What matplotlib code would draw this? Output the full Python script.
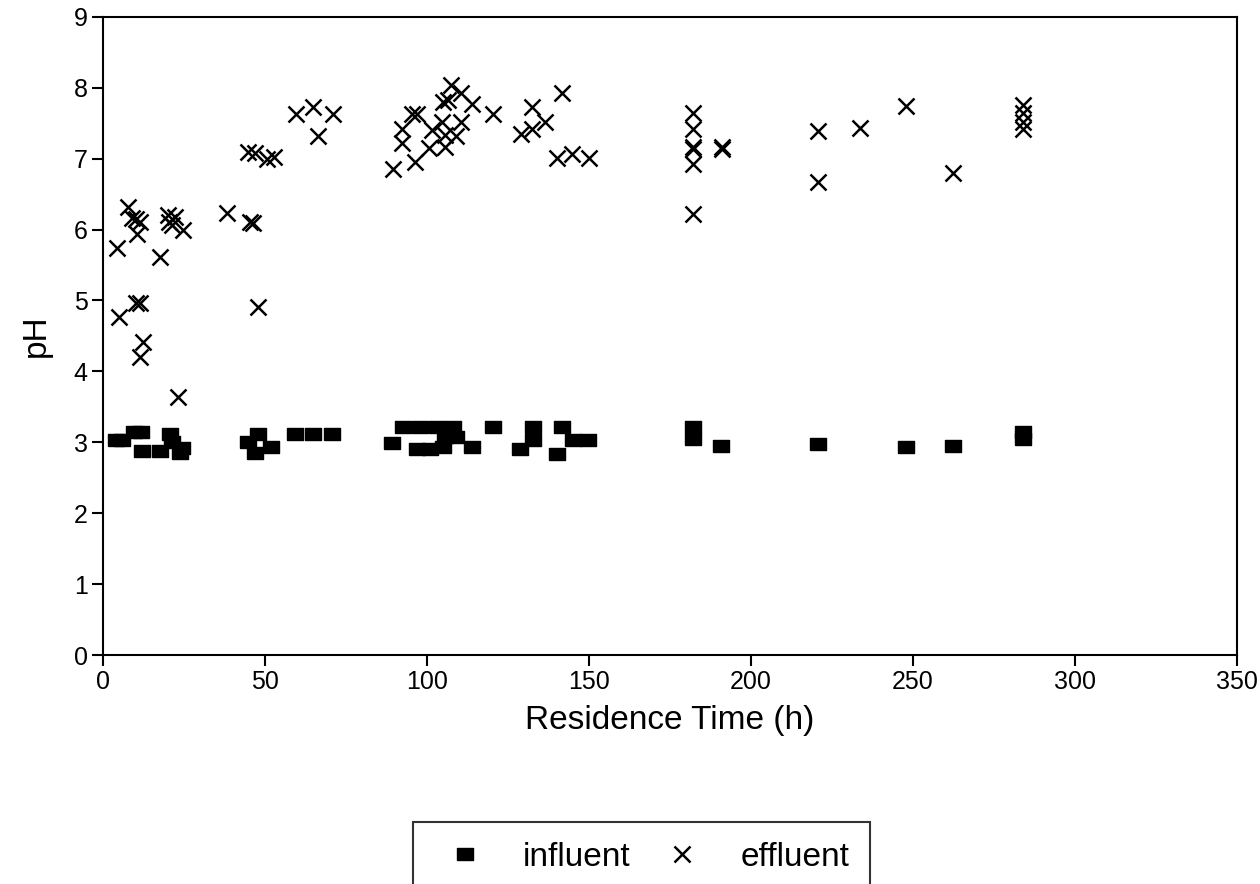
import matplotlib
matplotlib.use("Agg")
import matplotlib.pyplot as plt

plt.rcParams['font.family'] = ['Liberation Sans', 'DejaVu Sans']

# effluent pH (x markers)
eff_time = [4.3, 4.9, 7.7, 8.9, 10.2, 11.4, 10.5, 10.2, 11.4, 12.3, 11.4, 17.6,
            20.0, 22.2, 21.2, 24.7, 20.5, 23.1, 38.3, 45.4, 46.3, 47.8, 44.8,
            46.9, 50.6, 52.8,
            59.6, 64.8, 71.0, 66.4, 89.5, 92.3, 92.3, 95.4, 96.9, 96.3, 100.6,
            101.5, 104.6, 105.6, 105.6, 107.4, 105.0, 106.5, 110.5, 110.5, 109.0,
            113.9, 120.4, 132.4, 129.0, 132.4, 136.4, 141.7, 140.0, 144.8, 150.0,
            182, 182, 182, 182, 182, 182, 191, 191, 220.7, 220.7, 233.6, 247.8,
            262.3, 284, 284, 284, 284]
eff_ph = [5.74, 4.77, 6.32, 6.16, 6.15, 6.11, 5.94, 4.96, 4.96, 4.42, 4.20, 5.61,
          6.20, 6.17, 6.07, 6.00, 6.10, 3.64, 6.23, 6.10, 6.09, 4.91, 7.10,
          7.08, 7.00, 7.02,
          7.63, 7.73, 7.63, 7.32, 6.86, 7.42, 7.22, 7.63, 7.63, 6.95, 7.15,
          7.40, 7.52, 7.33, 7.17, 8.04, 7.80, 7.83, 7.93, 7.52, 7.32,
          7.77, 7.63, 7.73, 7.35, 7.42, 7.52, 7.93, 7.01, 7.07, 7.01,
          7.65, 7.42, 7.17, 7.13, 6.93, 6.22, 7.17, 7.13, 7.39, 6.67, 7.43, 7.74,
          6.80, 7.76, 7.65, 7.52, 7.42]

# influent pH (square markers)
inf_time = [4.0, 6.0, 9.6, 11.7, 12.0, 17.6, 20.7, 21.3, 23.8, 24.5, 47.9, 44.8,
            46.9, 52.0, 59.3, 64.8, 70.7, 89.2, 92.6, 97.8, 103.0, 108.0, 97.0,
            101.0, 105.6, 109.0, 105.0, 114.0, 120.4, 128.7, 132.7, 132.7, 141.7,
            140.0, 145.0, 149.7, 182, 182, 190.7, 220.7, 247.8, 262.3, 284, 284]
inf_ph = [3.03, 3.03, 3.14, 3.14, 2.88, 2.88, 3.12, 3.00, 2.85, 2.92, 3.12, 3.00,
          2.85, 2.93, 3.12, 3.12, 3.12, 2.99, 3.22, 3.22, 3.22, 3.22, 2.90,
          2.90, 3.07, 3.07, 2.93, 2.93, 3.22, 2.90, 3.22, 3.03, 3.22,
          2.83, 3.03, 3.03, 3.22, 3.05, 2.95, 2.98, 2.93, 2.95, 3.15, 3.05]

xticks = [0, 50, 100, 150, 200, 250, 300, 350]
yticks = list(range(10))

# squares in the scan are a little wider than tall
rect = [(-1, -0.8), (1, -0.8), (1, 0.8), (-1, 0.8), (-1, -0.8)]

fig = plt.figure(figsize=(12.6, 8.84), dpi=100, facecolor='white')
ax = fig.add_axes([0.0817, 0.259, 0.90, 0.722])

ax.plot(inf_time, inf_ph, linestyle='none', marker=rect, markersize=11,
        color='black', label='influent')
ax.plot(eff_time, eff_ph, linestyle='none', marker='x', markersize=11,
        markeredgewidth=1.8, color='black', label='effluent')

ax.set_xlim(0, 350)
ax.set_ylim(0, 9)
ax.set_xticks(xticks)
ax.set_yticks(yticks)
ax.tick_params(direction='out', length=8, width=1.5, labelsize=18,
               colors='black', pad=3)
for s in ax.spines.values():
    s.set_linewidth(1.5)

ax.set_xlabel('Residence Time (h)', fontsize=24, labelpad=8)
ax.set_ylabel('pH', fontsize=24, labelpad=16)

leg = fig.legend(loc='upper center', bbox_to_anchor=(0.509, 0.070), ncol=2,
                 fontsize=24, frameon=True, fancybox=False, shadow=False,
                 handlelength=1.9, handletextpad=0.8, columnspacing=0.6,
                 borderpad=0.6, borderaxespad=0.0)
leg.get_frame().set_edgecolor('black')
leg.get_frame().set_linewidth(1.5)

fig.savefig('out.png', dpi=100, facecolor='white')
